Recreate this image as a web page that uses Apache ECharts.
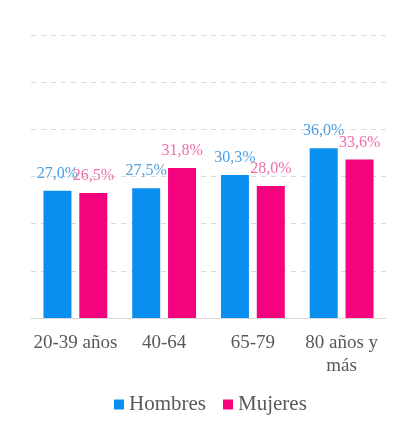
<!DOCTYPE html>
<html>
<head>
<meta charset="utf-8">
<script src="https://cdn.jsdelivr.net/npm/echarts@6/dist/echarts.min.js"></script>
<style>
  html, body { margin: 0; padding: 0; background: #ffffff; }
  #chart { width: 404px; height: 430px; }
</style>
</head>
<body>
<div id="chart"></div>
<script>
// Age groups on the category axis
const categories = ['20-39 años', '40-64', '65-79', '80 años y más'];
// Percentages per sex
const hombres = [27.0, 27.5, 30.3, 36.0];
const mujeres = [26.5, 31.8, 28.0, 33.6];
const seriesNames = ['Hombres', 'Mujeres'];

const SERIF = 'Liberation Serif';
const BLUE = '#0a8ff0';
const PINK = '#f5037f';

const fmtPct = (v) => v.toFixed(1).replace('.', ',') + '%';

const chart = echarts.init(document.getElementById('chart'), null, { renderer: 'canvas' });

function barSeries(name, values, color, labelColor) {
  return {
    name: name,
    type: 'bar',
    data: values,
    barWidth: 28,
    barGap: '28%',
    itemStyle: { color: color },
    label: {
      show: true,
      position: 'top',
      distance: 9,
      color: labelColor,
      fontFamily: SERIF,
      fontSize: 16,
      formatter: (p) => fmtPct(p.value)
    }
  };
}

chart.setOption({
  animation: false,
  backgroundColor: '#ffffff',
  textStyle: { fontFamily: SERIF },
  grid: { left: 31, right: 18, top: 35, bottom: 112, containLabel: false },
  legend: {
    data: seriesNames,
    bottom: 10,
    left: 109,
    icon: 'rect',
    itemWidth: 10,
    itemHeight: 10,
    itemGap: 17,
    textStyle: { fontFamily: SERIF, fontSize: 21, color: '#595959' }
  },
  xAxis: {
    type: 'category',
    data: categories,
    axisLine: { lineStyle: { color: '#d9d9d9', width: 1 } },
    axisTick: { show: false },
    axisLabel: {
      interval: 0,
      margin: 14,
      fontFamily: SERIF,
      fontSize: 19,
      lineHeight: 23,
      color: '#595959',
      formatter: (v) => v.replace(' y ', ' y\n')
    }
  },
  yAxis: {
    type: 'value',
    min: 0,
    max: 60,
    interval: 10,
    axisLabel: { show: false },
    axisLine: { show: false },
    axisTick: { show: false },
    splitLine: { lineStyle: { color: '#d9d9d9', type: [5, 5], width: 1 } }
  },
  series: [
    barSeries(seriesNames[0], hombres, BLUE, '#4c9fe2'),
    barSeries(seriesNames[1], mujeres, PINK, '#ef6ea8')
  ]
});
</script>
</body>
</html>
